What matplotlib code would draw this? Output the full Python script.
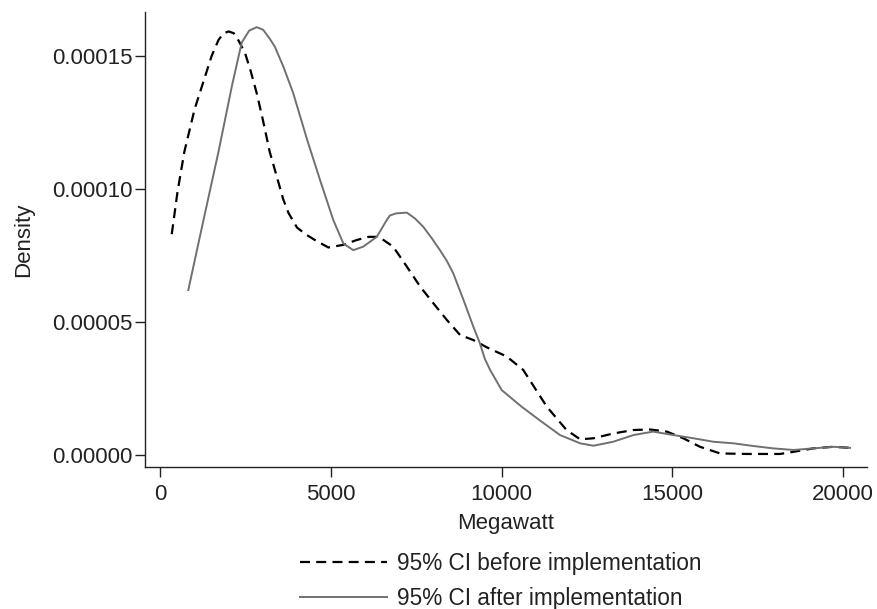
import matplotlib
matplotlib.use("Agg")
import matplotlib.pyplot as plt

plt.rcParams['font.family'] = ['Liberation Sans', 'DejaVu Sans']

# Density before implementation (dashed)
before_x = [330, 500, 700, 1000, 1250, 1500, 1700, 1850, 2000, 2150, 2300, 2480,
            2650, 2820, 3000, 3200, 3400, 3600, 3750, 4000, 4250, 4500, 4920,
            5360, 5750, 6100, 6400, 6820, 7220, 7610, 8000, 8390, 8780, 9170,
            9560, 10150, 10630, 11320, 11900, 12300, 12690, 13270, 13860, 14350,
            14840, 15320, 15810, 16400, 17180, 18160, 18550, 19130, 19720, 20200]
before_y = [8.3e-5, 9.9e-5, 1.14e-4, 1.30e-4, 1.40e-4, 1.50e-4, 1.56e-4, 1.585e-4,
            1.592e-4, 1.585e-4, 1.555e-4, 1.51e-4, 1.44e-4, 1.36e-4, 1.26e-4,
            1.14e-4, 1.05e-4, 9.6e-5, 9.1e-5, 8.55e-5, 8.3e-5, 8.1e-5, 7.8e-5,
            7.9e-5, 8.08e-5, 8.2e-5, 8.2e-5, 7.83e-5, 7.08e-5, 6.33e-5, 5.7e-5,
            5.08e-5, 4.51e-5, 4.32e-5, 4.05e-5, 3.7e-5, 3.2e-5, 1.82e-5, 9.4e-6,
            5.9e-6, 6.3e-6, 8.1e-6, 9.4e-6, 9.6e-6, 8.8e-6, 6.3e-6, 3.1e-6, 6e-7,
            4e-7, 4e-7, 1.2e-6, 2.5e-6, 3.1e-6, 2.7e-6]

# Density after implementation (solid)
after_x = [815, 1255, 1700, 2090, 2380, 2600, 2820, 3010, 3200, 3350, 3600, 3890,
           4100, 4300, 4675, 5065, 5360, 5650, 5940, 6340, 6630, 6720, 6900, 7220,
           7450, 7700, 7950, 8190, 8390, 8580, 8880, 9170, 9360, 9510, 9660,
           10000, 10580, 11120, 11710, 12300, 12690, 13270, 13860, 14440, 15030,
           15620, 16200, 16790, 17370, 17960, 18550, 19130, 19720, 20210]
after_y = [6.2e-5, 8.8e-5, 1.14e-4, 1.385e-4, 1.55e-4, 1.595e-4, 1.608e-4, 1.598e-4,
           1.565e-4, 1.535e-4, 1.46e-4, 1.36e-4, 1.27e-4, 1.184e-4, 1.034e-4,
           8.83e-5, 7.95e-5, 7.7e-5, 7.83e-5, 8.2e-5, 8.83e-5, 9.0e-5, 9.08e-5,
           9.11e-5, 8.9e-5, 8.58e-5, 8.15e-5, 7.7e-5, 7.3e-5, 6.83e-5, 5.83e-5,
           4.82e-5, 4.2e-5, 3.6e-5, 3.2e-5, 2.44e-5, 1.82e-5, 1.3e-5, 7.5e-6,
           4.4e-6, 3.5e-6, 5e-6, 7.5e-6, 8.8e-6, 7.5e-6, 6.3e-6, 5e-6, 4.4e-6,
           3.4e-6, 2.5e-6, 1.9e-6, 2.5e-6, 3.1e-6, 2.7e-6]

x_ticks = [0, 5000, 10000, 15000, 20000]
y_ticks = [0.0, 0.00005, 0.00010, 0.00015]
y_tick_labels = ["0.00000", "0.00005", "0.00010", "0.00015"]
series_labels = ["95% CI before implementation", "95% CI after implementation"]

fig = plt.figure(figsize=(8.77, 6.09), dpi=100)
ax = fig.add_axes([145/877, 1-467/609, (867-145)/877, (467-12)/609])

ax.plot(before_x, before_y, color='black', lw=1.6, linestyle=(0, (4.5, 2.8)),
        label=series_labels[0], solid_joinstyle='round', dash_joinstyle='round')
ax.plot(after_x, after_y, color='#707070', lw=1.4, label=series_labels[1],
        solid_joinstyle='round')

ax.set_xlim(-454, 20706)
ax.set_ylim(-4.5e-6, 1.665e-4)
ax.set_xticks(x_ticks)
ax.set_xticklabels([str(t) for t in x_ticks])
ax.set_yticks(y_ticks)
ax.set_yticklabels(y_tick_labels)

for s in ['top', 'right']:
    ax.spines[s].set_visible(False)
for s in ['left', 'bottom']:
    ax.spines[s].set_linewidth(1.0)
    ax.spines[s].set_color('#222222')

ax.tick_params(axis='both', labelsize=16, length=7, width=1.0, color='#222222',
               labelcolor='#222222')
ax.tick_params(axis='x', pad=5)
ax.tick_params(axis='y', pad=2)
ax.set_xlabel("Megawatt", fontsize=16, color='#222222', labelpad=6)
ax.set_ylabel("Density", fontsize=16, color='#222222', labelpad=13)

fig.legend(loc='upper center', bbox_to_anchor=(0.5707, 1-534/609), frameon=False,
           fontsize=16.3, handlelength=3.85, handletextpad=0.45, labelspacing=0.52,
           labelcolor='#222222', borderpad=0.3)

fig.savefig("out.png", dpi=100)
